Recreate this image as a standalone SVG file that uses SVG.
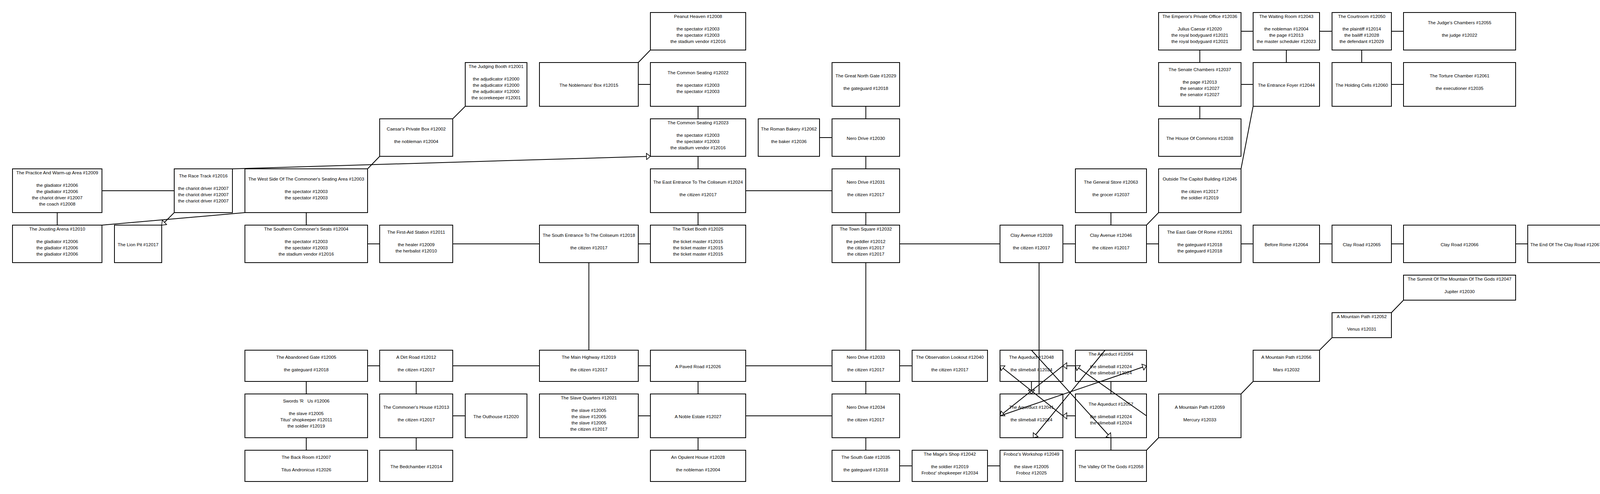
<svg xmlns="http://www.w3.org/2000/svg" width="4568" height="1264" viewBox="0 0 4568 1264">
<style>
.n rect{fill:#fff;stroke:#000;stroke-width:2}
.n text{font-family:"Liberation Sans",Arial,sans-serif;font-size:11.7px;text-anchor:middle;fill:#000}
.b rect{stroke:#00f}
.b text{fill:#00f}
#edges line{stroke:#000;stroke-width:2;fill:none}
.a{marker-end:url(#ah)}
</style>
<defs>
<marker id="ah" viewBox="0 0 12 18" refX="11" refY="9" markerWidth="12" markerHeight="18" markerUnits="userSpaceOnUse" orient="auto"><path d="M1,1 L11,9 L1,17 Z" fill="#fff" stroke="#000" stroke-width="1.6"/></marker>
</defs>
<rect x="0" y="0" width="4568" height="1264" fill="#fff"/>
<g id="nodes">
<g id="r12008" class="n"><rect x="1665" y="32" width="244" height="96"/><text><tspan x="1787" y="46">Peanut Heaven #12008</tspan><tspan x="1787" y="78">the spectator #12003</tspan><tspan x="1787" y="94">the spectator #12003</tspan><tspan x="1787" y="110">the stadium vendor #12016</tspan></text></g>
<g id="r12036" class="n"><rect x="2966" y="32" width="211" height="96"/><text><tspan x="3071.5" y="46">The Emperor's Private Office #12036</tspan><tspan x="3071.5" y="78">Julius Caesar #12020</tspan><tspan x="3071.5" y="94">the royal bodyguard #12021</tspan><tspan x="3071.5" y="110">the royal bodyguard #12021</tspan></text></g>
<g id="r12043" class="n"><rect x="3208" y="32" width="170" height="96"/><text><tspan x="3293" y="46">The Waiting Room #12043</tspan><tspan x="3293" y="78">the nobleman #12004</tspan><tspan x="3293" y="94">the page #12013</tspan><tspan x="3293" y="110">the master scheduler #12023</tspan></text></g>
<g id="r12050" class="n"><rect x="3410" y="32" width="152" height="96"/><text><tspan x="3486" y="46">The Courtroom #12050</tspan><tspan x="3486" y="78">the plaintiff #12014</tspan><tspan x="3486" y="94">the bailiff #12028</tspan><tspan x="3486" y="110">the defendant #12029</tspan></text></g>
<g id="r12055" class="n"><rect x="3593" y="32" width="287" height="96"/><text><tspan x="3736.5" y="62">The Judge's Chambers #12055</tspan><tspan x="3736.5" y="94">the judge #12022</tspan></text></g>

<g id="r12001" class="n"><rect x="1191" y="160" width="158" height="112"/><text><tspan x="1270" y="174">The Judging Booth #12001</tspan><tspan x="1270" y="206">the adjudicator #12000</tspan><tspan x="1270" y="222">the adjudicator #12000</tspan><tspan x="1270" y="238">the adjudicator #12000</tspan><tspan x="1270" y="254">the scorekeeper #12001</tspan></text></g>
<g id="r12015" class="n"><rect x="1381" y="160" width="253" height="112"/><text><tspan x="1507.5" y="222">The Noblemans' Box #12015</tspan></text></g>
<g id="r12022" class="n"><rect x="1665" y="160" width="244" height="112"/><text><tspan x="1787" y="190">The Common Seating #12022</tspan><tspan x="1787" y="222">the spectator #12003</tspan><tspan x="1787" y="238">the spectator #12003</tspan></text></g>
<g id="r12029" class="n"><rect x="2130" y="160" width="173" height="112"/><text><tspan x="2216.5" y="198">The Great North Gate #12029</tspan><tspan x="2216.5" y="230">the gateguard #12018</tspan></text></g>
<g id="r12037" class="n"><rect x="2966" y="160" width="211" height="112"/><text><tspan x="3071.5" y="182">The Senate Chambers #12037</tspan><tspan x="3071.5" y="214">the page #12013</tspan><tspan x="3071.5" y="230">the senator #12027</tspan><tspan x="3071.5" y="246">the senator #12027</tspan></text></g>
<g id="r12044" class="n"><rect x="3208" y="160" width="170" height="112"/><text><tspan x="3293" y="222">The Entrance Foyer #12044</tspan></text></g>
<g id="r12060" class="n"><rect x="3410" y="160" width="152" height="112"/><text><tspan x="3486" y="222">The Holding Cells #12060</tspan></text></g>
<g id="r12061" class="n"><rect x="3593" y="160" width="287" height="112"/><text><tspan x="3736.5" y="198">The Torture Chamber #12061</tspan><tspan x="3736.5" y="230">the executioner #12035</tspan></text></g>

<g id="r12002" class="n"><rect x="972" y="304" width="187" height="96"/><text><tspan x="1065.5" y="334">Caesar's Private Box #12002</tspan><tspan x="1065.5" y="366">the nobleman #12004</tspan></text></g>
<g id="r12023" class="n"><rect x="1665" y="304" width="244" height="96"/><text><tspan x="1787" y="318">The Common Seating #12023</tspan><tspan x="1787" y="350">the spectator #12003</tspan><tspan x="1787" y="366">the spectator #12003</tspan><tspan x="1787" y="382">the stadium vendor #12016</tspan></text></g>
<g id="r12062" class="n"><rect x="1941" y="304" width="157" height="96"/><text><tspan x="2019.5" y="334">The Roman Bakery #12062</tspan><tspan x="2019.5" y="366">the baker #12036</tspan></text></g>
<g id="r12030" class="n"><rect x="2130" y="304" width="173" height="96"/><text><tspan x="2216.5" y="358">Nero Drive #12030</tspan></text></g>
<g id="r12038" class="n"><rect x="2966" y="304" width="211" height="96"/><text><tspan x="3071.5" y="358">The House Of Commons #12038</tspan></text></g>

<g id="r12009" class="n"><rect x="32" y="432" width="229" height="112"/><text><tspan x="146.5" y="446">The Practice And Warm-up Area #12009</tspan><tspan x="146.5" y="478">the gladiator #12006</tspan><tspan x="146.5" y="494">the gladiator #12006</tspan><tspan x="146.5" y="510">the chariot driver #12007</tspan><tspan x="146.5" y="526">the coach #12008</tspan></text></g>
<g id="r12016" class="n"><rect x="446" y="432" width="149" height="112"/><text><tspan x="520.5" y="454">The Race Track #12016</tspan><tspan x="520.5" y="486">the chariot driver #12007</tspan><tspan x="520.5" y="502">the chariot driver #12007</tspan><tspan x="520.5" y="518">the chariot driver #12007</tspan></text></g>
<g id="r12003" class="n"><rect x="627" y="432" width="314" height="112"/><text><tspan x="784" y="462">The West Side Of The Commoner's Seating Area #12003</tspan><tspan x="784" y="494">the spectator #12003</tspan><tspan x="784" y="510">the spectator #12003</tspan></text></g>
<g id="r12024" class="n"><rect x="1665" y="432" width="244" height="112"/><text><tspan x="1787" y="470">The East Entrance To The Coliseum #12024</tspan><tspan x="1787" y="502">the citizen #12017</tspan></text></g>
<g id="r12031" class="n"><rect x="2130" y="432" width="173" height="112"/><text><tspan x="2216.5" y="470">Nero Drive #12031</tspan><tspan x="2216.5" y="502">the citizen #12017</tspan></text></g>
<g id="r12063" class="n"><rect x="2753" y="432" width="182" height="112"/><text><tspan x="2844" y="470">The General Store #12063</tspan><tspan x="2844" y="502">the grocer #12037</tspan></text></g>
<g id="r12045" class="n"><rect x="2966" y="432" width="211" height="112"/><text><tspan x="3071.5" y="462">Outside The Capitol Building #12045</tspan><tspan x="3071.5" y="494">the citizen #12017</tspan><tspan x="3071.5" y="510">the soldier #12019</tspan></text></g>
<g id="r12000" class="n"><rect x="4318" y="432" width="219" height="112"/><text><tspan x="4427.5" y="494">Rome Zone Description Room #12000</tspan></text></g>

<g id="r12010" class="n"><rect x="32" y="576" width="229" height="96"/><text><tspan x="146.5" y="590">The Jousting Arena #12010</tspan><tspan x="146.5" y="622">the gladiator #12006</tspan><tspan x="146.5" y="638">the gladiator #12006</tspan><tspan x="146.5" y="654">the gladiator #12006</tspan></text></g>
<g id="r12017" class="n"><rect x="293" y="576" width="121" height="96"/><text><tspan x="353.5" y="630">The Lion Pit #12017</tspan></text></g>
<g id="r12004" class="n"><rect x="627" y="576" width="314" height="96"/><text><tspan x="784" y="590">The Southern Commoner's Seats #12004</tspan><tspan x="784" y="622">the spectator #12003</tspan><tspan x="784" y="638">the spectator #12003</tspan><tspan x="784" y="654">the stadium vendor #12016</tspan></text></g>
<g id="r12011" class="n"><rect x="972" y="576" width="187" height="96"/><text><tspan x="1065.5" y="598">The First-Aid Station #12011</tspan><tspan x="1065.5" y="630">the healer #12009</tspan><tspan x="1065.5" y="646">the herbalist #12010</tspan></text></g>
<g id="r12018" class="n"><rect x="1381" y="576" width="253" height="96"/><text><tspan x="1507.5" y="606">The South Entrance To The Coliseum #12018</tspan><tspan x="1507.5" y="638">the citizen #12017</tspan></text></g>
<g id="r12025" class="n"><rect x="1665" y="576" width="244" height="96"/><text><tspan x="1787" y="590">The Ticket Booth #12025</tspan><tspan x="1787" y="622">the ticket master #12015</tspan><tspan x="1787" y="638">the ticket master #12015</tspan><tspan x="1787" y="654">the ticket master #12015</tspan></text></g>
<g id="r12032" class="n"><rect x="2130" y="576" width="173" height="96"/><text><tspan x="2216.5" y="590">The Town Square #12032</tspan><tspan x="2216.5" y="622">the peddler #12012</tspan><tspan x="2216.5" y="638">the citizen #12017</tspan><tspan x="2216.5" y="654">the citizen #12017</tspan></text></g>
<g id="r12039" class="n"><rect x="2560" y="576" width="161" height="96"/><text><tspan x="2640.5" y="606">Clay Avenue #12039</tspan><tspan x="2640.5" y="638">the citizen #12017</tspan></text></g>
<g id="r12046" class="n"><rect x="2753" y="576" width="182" height="96"/><text><tspan x="2844" y="606">Clay Avenue #12046</tspan><tspan x="2844" y="638">the citizen #12017</tspan></text></g>
<g id="r12051" class="n"><rect x="2966" y="576" width="211" height="96"/><text><tspan x="3071.5" y="598">The East Gate Of Rome #12051</tspan><tspan x="3071.5" y="630">the gateguard #12018</tspan><tspan x="3071.5" y="646">the gateguard #12018</tspan></text></g>
<g id="r12064" class="n"><rect x="3208" y="576" width="170" height="96"/><text><tspan x="3293" y="630">Before Rome #12064</tspan></text></g>
<g id="r12065" class="n"><rect x="3410" y="576" width="152" height="96"/><text><tspan x="3486" y="630">Clay Road #12065</tspan></text></g>
<g id="r12066" class="n"><rect x="3593" y="576" width="287" height="96"/><text><tspan x="3736.5" y="630">Clay Road #12066</tspan></text></g>
<g id="r12067" class="n"><rect x="3911" y="576" width="196" height="96"/><text><tspan x="4009" y="630">The End Of The Clay Road #12067</tspan></text></g>
<g id="r12068" class="n"><rect x="4139" y="576" width="147" height="96"/><text><tspan x="4212.5" y="630">A Small Dirt Trail #12068</tspan></text></g>
<g id="r5028" class="n b"><rect x="4318" y="576" width="219" height="96"/><text><tspan x="4427.5" y="630">To Great Eastern Desert #5028</tspan></text></g>

<g id="r12047" class="n"><rect x="3593" y="704" width="287" height="64"/><text><tspan x="3736.5" y="718">The Summit Of The Mountain Of The Gods #12047</tspan><tspan x="3736.5" y="750">Jupiter #12030</tspan></text></g>
<g id="r12052" class="n"><rect x="3410" y="800" width="152" height="64"/><text><tspan x="3486" y="814">A Mountain Path #12052</tspan><tspan x="3486" y="846">Venus #12031</tspan></text></g>

<g id="r12005" class="n"><rect x="627" y="896" width="314" height="80"/><text><tspan x="784" y="918">The Abandoned Gate #12005</tspan><tspan x="784" y="950">the gateguard #12018</tspan></text></g>
<g id="r12012" class="n"><rect x="972" y="896" width="187" height="80"/><text><tspan x="1065.5" y="918">A Dirt Road #12012</tspan><tspan x="1065.5" y="950">the citizen #12017</tspan></text></g>
<g id="r12019" class="n"><rect x="1381" y="896" width="253" height="80"/><text><tspan x="1507.5" y="918">The Main Highway #12019</tspan><tspan x="1507.5" y="950">the citizen #12017</tspan></text></g>
<g id="r12026" class="n"><rect x="1665" y="896" width="244" height="80"/><text><tspan x="1787" y="942">A Paved Road #12026</tspan></text></g>
<g id="r12033" class="n"><rect x="2130" y="896" width="173" height="80"/><text><tspan x="2216.5" y="918">Nero Drive #12033</tspan><tspan x="2216.5" y="950">the citizen #12017</tspan></text></g>
<g id="r12040" class="n"><rect x="2335" y="896" width="193" height="80"/><text><tspan x="2431.5" y="918">The Observation Lookout #12040</tspan><tspan x="2431.5" y="950">the citizen #12017</tspan></text></g>
<g id="r12048" class="n"><rect x="2560" y="896" width="161" height="80"/><text><tspan x="2640.5" y="918">The Aqueduct #12048</tspan><tspan x="2640.5" y="950">the slimeball #12024</tspan></text></g>
<g id="r12054" class="n"><rect x="2753" y="896" width="182" height="80"/><text><tspan x="2844" y="910">The Aqueduct #12054</tspan><tspan x="2844" y="942">the slimeball #12024</tspan><tspan x="2844" y="958">the slimeball #12024</tspan></text></g>
<g id="r12056" class="n"><rect x="3208" y="896" width="170" height="80"/><text><tspan x="3293" y="918">A Mountain Path #12056</tspan><tspan x="3293" y="950">Mars #12032</tspan></text></g>

<g id="r12006" class="n"><rect x="627" y="1008" width="314" height="112"/><text><tspan x="784" y="1030">Swords 'R&#160;&#160; Us #12006</tspan><tspan x="784" y="1062">the slave #12005</tspan><tspan x="784" y="1078">Titus' shopkeeper #12011</tspan><tspan x="784" y="1094">the soldier #12019</tspan></text></g>
<g id="r12013" class="n"><rect x="972" y="1008" width="187" height="112"/><text><tspan x="1065.5" y="1046">The Commoner's House #12013</tspan><tspan x="1065.5" y="1078">the citizen #12017</tspan></text></g>
<g id="r12020" class="n"><rect x="1191" y="1008" width="158" height="112"/><text><tspan x="1270" y="1070">The Outhouse #12020</tspan></text></g>
<g id="r12021" class="n"><rect x="1381" y="1008" width="253" height="112"/><text><tspan x="1507.5" y="1022">The Slave Quarters #12021</tspan><tspan x="1507.5" y="1054">the slave #12005</tspan><tspan x="1507.5" y="1070">the slave #12005</tspan><tspan x="1507.5" y="1086">the slave #12005</tspan><tspan x="1507.5" y="1102">the citizen #12017</tspan></text></g>
<g id="r12027" class="n"><rect x="1665" y="1008" width="244" height="112"/><text><tspan x="1787" y="1070">A Noble Estate #12027</tspan></text></g>
<g id="r12034" class="n"><rect x="2130" y="1008" width="173" height="112"/><text><tspan x="2216.5" y="1046">Nero Drive #12034</tspan><tspan x="2216.5" y="1078">the citizen #12017</tspan></text></g>
<g id="r12041" class="n"><rect x="2560" y="1008" width="161" height="112"/><text><tspan x="2640.5" y="1046">The Aqueduct #12041</tspan><tspan x="2640.5" y="1078">the slimeball #12024</tspan></text></g>
<g id="r12057" class="n"><rect x="2753" y="1008" width="182" height="112"/><text><tspan x="2844" y="1038">The Aqueduct #12057</tspan><tspan x="2844" y="1070">the slimeball #12024</tspan><tspan x="2844" y="1086">the slimeball #12024</tspan></text></g>
<g id="r12059" class="n"><rect x="2966" y="1008" width="211" height="112"/><text><tspan x="3071.5" y="1046">A Mountain Path #12059</tspan><tspan x="3071.5" y="1078">Mercury #12033</tspan></text></g>

<g id="r12007" class="n"><rect x="627" y="1152" width="314" height="80"/><text><tspan x="784" y="1174">The Back Room #12007</tspan><tspan x="784" y="1206">Titus Andronicus #12026</tspan></text></g>
<g id="r12014" class="n"><rect x="972" y="1152" width="187" height="80"/><text><tspan x="1065.5" y="1198">The Bedchamber #12014</tspan></text></g>
<g id="r12028" class="n"><rect x="1665" y="1152" width="244" height="80"/><text><tspan x="1787" y="1174">An Opulent House #12028</tspan><tspan x="1787" y="1206">the nobleman #12004</tspan></text></g>
<g id="r12035" class="n"><rect x="2130" y="1152" width="173" height="80"/><text><tspan x="2216.5" y="1174">The South Gate #12035</tspan><tspan x="2216.5" y="1206">the gateguard #12018</tspan></text></g>
<g id="r12042" class="n"><rect x="2335" y="1152" width="193" height="80"/><text><tspan x="2431.5" y="1166">The Mage's Shop #12042</tspan><tspan x="2431.5" y="1198">the soldier #12019</tspan><tspan x="2431.5" y="1214">Froboz' shopkeeper #12034</tspan></text></g>
<g id="r12049" class="n"><rect x="2560" y="1152" width="161" height="80"/><text><tspan x="2640.5" y="1166">Froboz's Workshop #12049</tspan><tspan x="2640.5" y="1198">the slave #12005</tspan><tspan x="2640.5" y="1214">Froboz #12025</tspan></text></g>
<g id="r12058" class="n"><rect x="2753" y="1152" width="182" height="80"/><text><tspan x="2844" y="1198">The Valley Of The Gods #12058</tspan></text></g>
</g>
<g id="edges">
<line x1="261" y1="488" x2="446" y2="488"/>
<line x1="146.5" y1="544" x2="146.5" y2="576"/>
<line class="a" x1="595" y1="432" x2="1665" y2="400"/>
<line class="a" x1="446" y1="544" x2="414" y2="576"/>
<line x1="627" y1="544" x2="261" y2="576"/>
<line x1="941" y1="432" x2="972" y2="400"/>
<line x1="1159" y1="304" x2="1191" y2="272"/>
<line x1="784" y1="544" x2="784" y2="576"/>
<line x1="941" y1="624" x2="972" y2="624"/>
<line x1="1159" y1="624" x2="1381" y2="624"/>
<line x1="1507.5" y1="672" x2="1507.5" y2="896"/>
<line x1="1634" y1="624" x2="1665" y2="624"/>
<line x1="1665" y1="128" x2="1634" y2="160"/>
<line x1="1634" y1="216" x2="1665" y2="216"/>
<line x1="1787" y1="272" x2="1787" y2="304"/>
<line x1="1787" y1="400" x2="1787" y2="432"/>
<line x1="1787" y1="544" x2="1787" y2="576"/>
<line x1="1909" y1="488" x2="2130" y2="488"/>
<line x1="2098" y1="352" x2="2130" y2="352"/>
<line x1="2216.5" y1="272" x2="2216.5" y2="304"/>
<line x1="2216.5" y1="400" x2="2216.5" y2="432"/>
<line x1="2216.5" y1="544" x2="2216.5" y2="576"/>
<line x1="2216.5" y1="672" x2="2216.5" y2="896"/>
<line x1="2216.5" y1="976" x2="2216.5" y2="1008"/>
<line x1="2216.5" y1="1120" x2="2216.5" y2="1152"/>
<line x1="941" y1="936" x2="972" y2="936"/>
<line x1="1159" y1="936" x2="1381" y2="936"/>
<line x1="784" y1="976" x2="784" y2="1008"/>
<line x1="784" y1="1120" x2="784" y2="1152"/>
<line x1="1065.5" y1="976" x2="1065.5" y2="1008"/>
<line x1="1065.5" y1="1120" x2="1065.5" y2="1152"/>
<line x1="1159" y1="1064" x2="1191" y2="1064"/>
<line x1="1634" y1="936" x2="1665" y2="936"/>
<line x1="1909" y1="936" x2="2130" y2="936"/>
<line x1="1787" y1="976" x2="1787" y2="1008"/>
<line x1="1634" y1="1064" x2="1665" y2="1064"/>
<line x1="1909" y1="1064" x2="2130" y2="1064"/>
<line x1="1787" y1="1120" x2="1787" y2="1152"/>
<line x1="2303" y1="936" x2="2335" y2="936"/>
<line x1="2303" y1="1192" x2="2335" y2="1192"/>
<line x1="2528" y1="1192" x2="2560" y2="1192"/>
<line x1="2303" y1="624" x2="2560" y2="624"/>
<line x1="2721" y1="624" x2="2753" y2="624"/>
<line x1="2935" y1="624" x2="2966" y2="624"/>
<line x1="2844" y1="544" x2="2844" y2="576"/>
<line x1="2935" y1="576" x2="2966" y2="544"/>
<line x1="3177" y1="432" x2="3208" y2="272"/>
<line x1="3177" y1="80" x2="3208" y2="80"/>
<line x1="3378" y1="80" x2="3410" y2="80"/>
<line x1="3562" y1="80" x2="3593" y2="80"/>
<line x1="3071.5" y1="128" x2="3071.5" y2="160"/>
<line x1="3071.5" y1="272" x2="3071.5" y2="304"/>
<line x1="3177" y1="216" x2="3208" y2="216"/>
<line x1="3293" y1="128" x2="3293" y2="160"/>
<line x1="3486" y1="128" x2="3486" y2="160"/>
<line x1="3562" y1="216" x2="3593" y2="216"/>
<line x1="3177" y1="624" x2="3208" y2="624"/>
<line x1="3378" y1="624" x2="3410" y2="624"/>
<line x1="3562" y1="624" x2="3593" y2="624"/>
<line x1="3880" y1="624" x2="3911" y2="624"/>
<line x1="4107" y1="624" x2="4139" y2="624"/>
<line x1="4286" y1="624" x2="4318" y2="624"/>
<line x1="2935" y1="1152" x2="2966" y2="1120"/>
<line x1="3177" y1="1008" x2="3208" y2="976"/>
<line x1="3378" y1="896" x2="3410" y2="864"/>
<line x1="3562" y1="800" x2="3593" y2="768"/>
<line x1="2660" y1="672" x2="2660" y2="1008"/>
<line class="a" x1="2640.5" y1="976" x2="2640.5" y2="1008"/>
<line class="a" x1="2753" y1="936" x2="2721" y2="936"/>
<line class="a" x1="2753" y1="1064" x2="2721" y2="1064"/>
<line x1="2844" y1="976" x2="2844" y2="1008"/>
<line x1="2844" y1="1120" x2="2844" y2="1152"/>
<line class="a" x1="2640.5" y1="896" x2="2844" y2="1120"/>
<line class="a" x1="2829" y1="896" x2="2645" y2="1120"/>
<line class="a" x1="2721" y1="1064" x2="2560" y2="936"/>
<line class="a" x1="2721" y1="936" x2="2560" y2="1064"/>
<line class="a" x1="2935" y1="1064" x2="2753" y2="936"/>
<line class="a" x1="2560" y1="1064" x2="2935" y2="936"/>
</g>
</svg>
